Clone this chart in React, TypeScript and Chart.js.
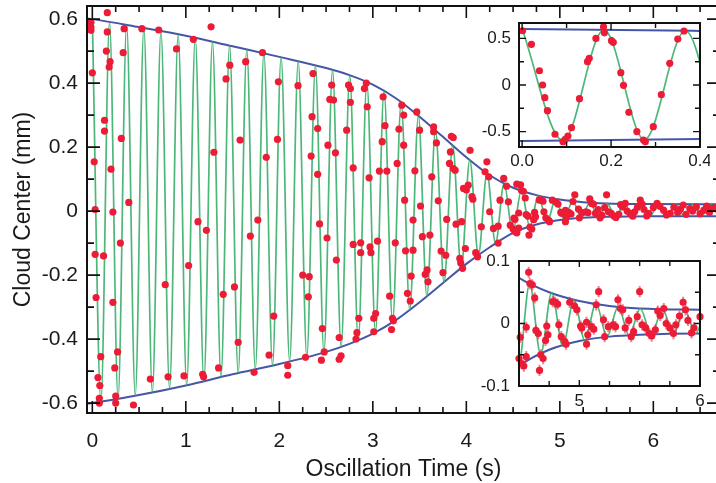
import React, { useEffect, useRef } from 'react';
import { Chart, registerables } from 'chart.js';

Chart.register(...registerables);

const FONT = "'Liberation Sans', Arial, Helvetica, sans-serif";
const INK = '#1a1a1a';
const RED = '#ec1c36';
const GREEN = 'rgba(46,170,98,0.85)';
const BLUE = '#4656a6';

// ---- axis tick labels ----
const MAIN_X_TICKS = [0, 1, 2, 3, 4, 5, 6];
const MAIN_X_LABELS = ['0', '1', '2', '3', '4', '5', '6'];
const MAIN_Y_TICKS = [-0.6, -0.4, -0.2, 0, 0.2, 0.4, 0.6];
const MAIN_Y_LABELS = ['-0.6', '-0.4', '-0.2', '0', '0.2', '0.4', '0.6'];
const IN1_X_TICKS = [0, 0.2, 0.4];
const IN1_X_LABELS = ['0.0', '0.2', '0.4'];
const IN1_Y_TICKS = [-0.5, 0, 0.5];
const IN1_Y_LABELS = ['-0.5', '0', '0.5'];
const IN2_X_TICKS = [5, 6];
const IN2_X_LABELS = ['5', '6'];
const IN2_Y_TICKS = [-0.1, 0, 0.1];
const IN2_Y_LABELS = ['-0.1', '0', '0.1'];

// ---- decay envelope (blue) ----
const ENV_T = [-0.06, 0, 0.5, 1.0, 1.5, 2.0, 2.5, 2.75, 3.0, 3.25, 3.5, 3.75, 4.0, 4.25, 4.5, 4.75, 5.0, 5.25, 5.5, 6.0, 6.75];
const ENV_UPPER = [0.602, 0.6, 0.575, 0.548, 0.515, 0.482, 0.447, 0.425, 0.395, 0.352, 0.295, 0.232, 0.168, 0.112, 0.073, 0.05, 0.036, 0.028, 0.024, 0.022, 0.021];
const ENV_LOWER = [-0.602, -0.6, -0.575, -0.545, -0.51, -0.478, -0.44, -0.415, -0.383, -0.34, -0.285, -0.225, -0.165, -0.113, -0.068, -0.042, -0.028, -0.021, -0.018, -0.016, -0.016];

// ---- fitted oscillation (green): successive extrema ----
const FIT_T = [0, 0.092, 0.184, 0.275, 0.367, 0.459, 0.551, 0.642, 0.734, 0.826, 0.918, 1.009, 1.101, 1.193, 1.285, 1.376, 1.468, 1.56, 1.652, 1.743, 1.835, 1.927, 2.019, 2.11, 2.202, 2.294, 2.386, 2.477, 2.569, 2.661, 2.753, 2.844, 2.936, 3.028, 3.12, 3.211, 3.303, 3.395, 3.487, 3.578, 3.67, 3.762, 3.854, 3.945, 4.037, 4.129, 4.221, 4.312, 4.404, 4.496, 4.588, 4.679, 4.771, 4.863, 4.955, 5.046, 5.138, 5.23, 5.322, 5.413, 5.505, 5.597, 5.689, 5.78, 5.872, 5.964, 6.056, 6.147, 6.239, 6.331, 6.423, 6.514, 6.606, 6.698];
const FIT_Y = [0.6, -0.595, 0.591, -0.586, 0.582, -0.577, 0.572, -0.567, 0.562, -0.555, 0.552, -0.545, 0.541, -0.533, 0.529, -0.519, 0.517, -0.506, 0.505, -0.494, 0.493, -0.483, 0.481, -0.47, 0.468, -0.456, 0.455, -0.442, 0.441, -0.424, 0.425, -0.404, 0.403, -0.378, 0.376, -0.347, 0.341, -0.309, 0.298, -0.267, 0.252, -0.222, 0.206, -0.178, 0.159, -0.138, 0.118, -0.101, 0.087, -0.068, 0.064, -0.049, 0.049, -0.036, 0.038, -0.027, 0.032, -0.021, 0.027, -0.019, 0.024, -0.018, 0.023, -0.017, 0.022, -0.016, 0.022, -0.016, 0.022, -0.016, 0.021, -0.016, 0.021, -0.016];

// ---- measured cloud centre (red), main panel ----
const MAIN_DATA: [number, number][] = [
  [0.16, 0.62], [-0.015, 0.59], [-0.015, 0.575], [-0.015, 0.565], [0.16, 0.56], [0.34, 0.57], [0.53, 0.57], [0.71, 0.566], [1.08, 0.537], [1.27, 0.576],
  [0.15, 0.5], [0.33, 0.495], [0.9, 0.507], [0.19, 0.467], [0.18, 0.45], [1.47, 0.456], [1.43, 0.413], [0.0, 0.432], [0.13, 0.284], [0.13, 0.25],
  [0.31, 0.227], [1.58, 0.222], [1.3, 0.184], [0.02, 0.154], [0.2, 0.131], [0.39, 0.027], [0.03, 0.005], [0.22, -0.003], [1.13, -0.033], [1.22, -0.06],
  [0.03, -0.135], [0.12, -0.14], [0.3, -0.1], [0.04, -0.27], [0.22, -0.285], [0.09, -0.455], [0.27, -0.44], [0.24, -0.49], [0.06, -0.52], [0.08, -0.545],
  [0.075, -0.585], [0.075, -0.6], [0.25, -0.578], [0.25, -0.6], [0.44, -0.606], [0.62, -0.525], [0.81, -0.518], [0.98, -0.515], [1.18, -0.51], [1.19, -0.518],
  [1.35, -0.49], [1.03, -0.17], [0.78, -0.23], [1.4, -0.26], [1.52, -0.237], [1.56, -0.41],
  [1.82, 0.495], [1.64, 0.467], [1.99, 0.404], [2.2, 0.392], [2.36, 0.43], [2.56, 0.394], [2.74, 0.394], [2.76, 0.383], [2.76, 0.34], [2.54, 0.349],
  [2.58, 0.347], [2.93, 0.4], [2.91, 0.383], [2.94, 0.326], [3.11, 0.357], [1.86, 0.168], [1.98, 0.224], [2.35, 0.295], [2.41, 0.258], [2.34, 0.172],
  [2.41, 0.115], [2.52, 0.206], [2.6, 0.182], [2.72, 0.253], [2.79, 0.135], [3.1, 0.217], [3.13, 0.267], [3.28, 0.256], [3.07, 0.125], [3.15, 0.125],
  [3.26, 0.149], [2.96, 0.104], [1.77, -0.028], [1.69, -0.078], [2.43, -0.04], [2.51, -0.084],
  [3.31, 0.331], [3.47, 0.31], [3.33, 0.3], [3.5, 0.253], [3.65, 0.263], [3.65, 0.248], [3.68, 0.213], [3.84, 0.234], [3.86, 0.23], [3.83, 0.185],
  [4.04, 0.19], [3.82, 0.149], [3.86, 0.133], [3.88, 0.128], [4.22, 0.154], [4.02, 0.081], [4.0, 0.066], [4.06, 0.045], [4.2, 0.123], [4.24, 0.107],
  [3.45, 0.126], [3.63, 0.107], [3.33, 0.206], [3.34, 0.034], [3.7, 0.032], [3.51, 0.016], [4.07, 0.037], [3.97, 0.071], [4.4, 0.102], [4.43, 0.078],
  [4.54, 0.084], [4.36, 0.034], [4.45, 0.029], [4.25, -0.002], [3.43, -0.028], [3.79, -0.026], [3.95, -0.033], [4.16, -0.049], [3.53, -0.08], [3.61, -0.075],
  [3.89, -0.041], [4.29, -0.054], [4.34, -0.047], [4.47, -0.044], [4.52, -0.026], [4.34, -0.1],
  [1.73, -0.504], [1.94, -0.328], [1.89, -0.45], [2.09, -0.483], [2.09, -0.513], [2.25, -0.2], [2.32, -0.205], [2.31, -0.268], [2.28, -0.457], [2.46, -0.367],
  [2.48, -0.44], [2.45, -0.466], [2.61, -0.153], [2.64, -0.395], [2.66, -0.452], [2.64, -0.463], [2.79, -0.104], [2.87, -0.099], [2.87, -0.13], [2.85, -0.335],
  [2.83, -0.38], [2.82, -0.4], [2.97, -0.112], [2.98, -0.13], [3.05, -0.094], [3.01, -0.335], [3.03, -0.32], [3.01, -0.377], [3.24, -0.099], [3.18, -0.266],
  [3.21, -0.335], [3.22, -0.343], [3.2, -0.37], [3.35, -0.124], [3.43, -0.122], [3.41, -0.203], [3.37, -0.257], [3.4, -0.281], [3.56, -0.198], [3.58, -0.184],
  [3.59, -0.221], [3.73, -0.125], [3.78, -0.138], [3.75, -0.192], [3.93, -0.148], [3.94, -0.162], [3.96, -0.179], [3.99, -0.117], [4.1, -0.13], [4.12, -0.143],
  [6.04, 0.024], [6.07, 0.015], [6.11, 0.003], [6.14, -0.012], [6.18, -0.007], [6.22, 0.012], [6.26, -0.004], [6.29, 0.006], [6.32, 0.019], [6.35, -0.01],
  [6.39, 0.008], [6.42, 0.0], [6.46, 0.013], [6.5, -0.008], [6.54, 0.003], [6.57, 0.016], [6.6, -0.004], [6.62, 0.008], [6.65, 0.01],
];

// ---- first 0.4 s (upper inset) ----
const EARLY_DATA: [number, number][] = [
  [0.001, 0.582], [0.021, 0.436], [0.039, 0.153], [0.046, 0.0], [0.051, -0.136], [0.057, -0.275], [0.074, -0.528], [0.092, -0.608], [0.097, -0.582], [0.103, -0.547],
  [0.111, -0.458], [0.129, -0.147], [0.147, 0.25], [0.151, 0.286], [0.166, 0.5], [0.183, 0.625], [0.185, 0.56], [0.201, 0.475], [0.205, 0.458], [0.222, 0.132],
  [0.228, -0.003], [0.24, -0.293], [0.258, -0.5], [0.273, -0.59], [0.277, -0.61], [0.295, -0.447], [0.313, -0.104], [0.332, 0.233], [0.35, 0.493], [0.364, 0.579],
];

// ---- 4.5 s to 6 s (lower inset, also shown in main panel) ----
const LATE_DATA: [number, number][] = [
  [4.58, 0.082], [4.51, -0.022], [4.5, -0.056], [4.52, -0.064], [4.54, -0.068], [4.56, -0.053], [4.56, -0.006], [4.59, 0.064], [4.61, 0.062], [4.63, 0.041],
  [4.64, -0.011], [4.66, -0.016], [4.68, -0.05], [4.7, -0.056], [4.67, -0.075], [4.72, -0.027], [4.73, -0.004], [4.74, -0.018], [4.78, 0.035], [4.8, 0.034],
  [4.82, 0.031], [4.83, -0.002], [4.85, -0.021], [4.88, -0.029], [4.89, -0.033], [4.92, 0.034], [4.96, 0.028], [4.98, 0.022], [5.01, -0.004], [5.02, -0.007],
  [5.06, -0.033], [5.07, -0.018], [5.06, 0.002], [5.1, -0.005], [5.12, -0.009], [5.14, 0.03], [5.16, 0.051], [5.2, 0.006], [5.21, -0.021], [5.24, -0.005],
  [5.28, -0.002], [5.3, -0.005], [5.32, 0.038], [5.34, 0.024], [5.36, 0.022], [5.38, -0.007], [5.41, 0.005], [5.43, -0.021], [5.45, -0.013], [5.48, 0.011],
  [5.5, 0.051], [5.52, -0.002], [5.55, -0.007], [5.58, -0.016], [5.6, -0.02], [5.63, -0.01], [5.65, 0.02], [5.67, 0.013], [5.7, 0.024], [5.72, 0.0],
  [5.75, -0.007], [5.78, -0.016], [5.8, -0.002], [5.83, 0.012], [5.86, 0.034], [5.88, 0.022], [5.9, 0.005], [5.93, -0.015], [5.95, -0.007], [6.0, 0.011],
];
const LATE_ERR = 0.009;

function pts(arr: [number, number][]) {
  return arr.map(([x, y]) => ({ x, y }));
}
function pairs(xs: number[], ys: number[]) {
  return xs.map((x, i) => ({ x, y: ys[i] }));
}
function range(a: number, b: number, step: number) {
  const out: number[] = [];
  for (let v = a; v <= b + 1e-9; v += step) out.push(Math.round(v * 1000) / 1000);
  return out;
}

function framePlugin(cfg: {
  xMajor: number[]; xMinor: number[]; yMajor: number[]; yMinor: number[];
  xMajLen: number; xMinLen: number; yMajLen: number; yMinLen: number; lw: number; tw: number; fill: boolean;
}) {
  return {
    id: 'frameTicks',
    beforeDraw(chart: any) {
      if (!cfg.fill) return;
      const { ctx, chartArea: a } = chart;
      ctx.save();
      ctx.fillStyle = '#ffffff';
      ctx.fillRect(a.left, a.top, a.right - a.left, a.bottom - a.top);
      ctx.restore();
    },
    afterDatasetsDraw(chart: any) {
      const { ctx, chartArea: a, scales } = chart;
      const xs = scales.x;
      const ys = scales.y;
      ctx.save();
      ctx.strokeStyle = '#111';
      ctx.lineWidth = cfg.tw;
      ctx.beginPath();
      const xt = (vals: number[], len: number) => vals.forEach((v) => {
        const p = xs.getPixelForValue(v);
        if (p < a.left - 1 || p > a.right + 1) return;
        ctx.moveTo(p, a.bottom); ctx.lineTo(p, a.bottom - len);
        ctx.moveTo(p, a.top); ctx.lineTo(p, a.top + len);
      });
      const yt = (vals: number[], len: number) => vals.forEach((v) => {
        const p = ys.getPixelForValue(v);
        if (p < a.top - 1 || p > a.bottom + 1) return;
        ctx.moveTo(a.left, p); ctx.lineTo(a.left + len, p);
        ctx.moveTo(a.right, p); ctx.lineTo(a.right - len, p);
      });
      xt(cfg.xMajor, cfg.xMajLen);
      xt(cfg.xMinor, cfg.xMinLen);
      yt(cfg.yMajor, cfg.yMajLen);
      yt(cfg.yMinor, cfg.yMinLen);
      ctx.stroke();
      ctx.lineWidth = cfg.lw;
      ctx.strokeRect(a.left, a.top, a.right - a.left, a.bottom - a.top);
      ctx.restore();
    },
  };
}

function errorBarPlugin(data: [number, number][], err: number) {
  return {
    id: 'errorBars',
    beforeDatasetDraw(chart: any, args: any) {
      if (args.index !== 0) return;
      const { ctx, chartArea: a, scales } = chart;
      const meta = chart.getDatasetMeta(0);
      ctx.save();
      ctx.beginPath();
      ctx.rect(a.left, a.top, a.right - a.left, a.bottom - a.top);
      ctx.clip();
      ctx.strokeStyle = 'rgba(236,40,70,0.6)';
      ctx.lineWidth = 2;
      ctx.beginPath();
      meta.data.forEach((el: any, i: number) => {
        const v = data[i][1];
        ctx.moveTo(el.x, scales.y.getPixelForValue(v + err));
        ctx.lineTo(el.x, scales.y.getPixelForValue(v - err));
      });
      ctx.stroke();
      ctx.restore();
    },
  };
}

function zeroPad(s: any) {
  s.paddingLeft = 0; s.paddingRight = 0; s.paddingTop = 0; s.paddingBottom = 0;
}

function axes(o: {
  xMin: number; xMax: number; yMin: number; yMax: number;
  xTicks: number[]; xLabels: string[]; yTicks: number[]; yLabels: string[];
  yWidth: number; xHeight: number; fontSize: number; xPad: number; yPad: number;
  xTitle?: string; yTitle?: string; titleSize?: number;
}) {
  const font = { family: FONT, size: o.fontSize };
  const tfont = { family: FONT, size: o.titleSize || o.fontSize };
  return {
    x: {
      type: 'linear', position: 'bottom', min: o.xMin, max: o.xMax,
      grid: { display: false, drawTicks: false }, border: { display: false },
      afterBuildTicks: (s: any) => { s.ticks = o.xTicks.map((v) => ({ value: v })); },
      afterFit: (s: any) => { s.height = o.xHeight; zeroPad(s); },
      ticks: { font, color: INK, padding: o.xPad, autoSkip: false, maxRotation: 0, minRotation: 0, callback: (_v: any, i: number) => o.xLabels[i] },
      title: o.xTitle ? { display: true, text: o.xTitle, font: tfont, color: INK, padding: { top: 0, bottom: 0 } } : { display: false },
    },
    y: {
      type: 'linear', position: 'left', min: o.yMin, max: o.yMax,
      grid: { display: false, drawTicks: false }, border: { display: false },
      afterBuildTicks: (s: any) => { s.ticks = o.yTicks.map((v) => ({ value: v })); },
      afterFit: (s: any) => { s.width = o.yWidth; zeroPad(s); },
      ticks: { font, color: INK, padding: o.yPad, autoSkip: false, callback: (_v: any, i: number) => o.yLabels[i] },
      title: o.yTitle ? { display: true, text: o.yTitle, font: tfont, color: INK, padding: { top: 10, bottom: 0 } } : { display: false },
    },
  };
}

function lineSets(redData: any[]) {
  return [
    { label: 'data', data: redData, backgroundColor: RED, borderColor: RED, borderWidth: 0, pointRadius: 3.6, showLine: false, clip: 6 },
    { label: 'fit', data: pairs(FIT_T, FIT_Y), showLine: true, borderColor: GREEN, borderWidth: 1.7, pointRadius: 0, cubicInterpolationMode: 'monotone', fill: false },
    { label: 'upper', data: pairs(ENV_T, ENV_UPPER), showLine: true, borderColor: BLUE, borderWidth: 2, pointRadius: 0, cubicInterpolationMode: 'monotone', fill: false },
    { label: 'lower', data: pairs(ENV_T, ENV_LOWER), showLine: true, borderColor: BLUE, borderWidth: 2, pointRadius: 0, cubicInterpolationMode: 'monotone', fill: false },
  ];
}

const baseOptions = {
  responsive: false,
  maintainAspectRatio: false,
  animation: false,
  devicePixelRatio: 1,
  events: [],
  plugins: { legend: { display: false }, tooltip: { enabled: false } },
};

export default function App() {
  const mainRef = useRef<HTMLCanvasElement>(null);
  const in1Ref = useRef<HTMLCanvasElement>(null);
  const in2Ref = useRef<HTMLCanvasElement>(null);

  useEffect(() => {
    const main = new Chart(mainRef.current as HTMLCanvasElement, {
      type: 'scatter',
      data: { datasets: lineSets(pts(MAIN_DATA).concat(pts(LATE_DATA))) as any },
      options: {
        ...baseOptions,
        layout: { padding: { left: 0, top: 6, right: 20, bottom: 0 } },
        scales: axes({
          xMin: -0.057, xMax: 6.713, yMin: -0.631, yMax: 0.641,
          xTicks: MAIN_X_TICKS, xLabels: MAIN_X_LABELS, yTicks: MAIN_Y_TICKS, yLabels: MAIN_Y_LABELS,
          yWidth: 87, xHeight: 70, fontSize: 21, xPad: 16, yPad: 9,
          xTitle: 'Oscillation Time (s)', yTitle: 'Cloud Center (mm)', titleSize: 23,
        }) as any,
      } as any,
      plugins: [framePlugin({
        xMajor: MAIN_X_TICKS, xMinor: range(0.25, 6.75, 0.25).filter((v) => v % 1 !== 0),
        yMajor: MAIN_Y_TICKS, yMinor: [-0.5, -0.3, -0.1, 0.1, 0.3, 0.5],
        xMajLen: 12, xMinLen: 6, yMajLen: 13, yMinLen: 7, lw: 2, tw: 1.6, fill: false,
      }) as any],
    });

    const in1 = new Chart(in1Ref.current as HTMLCanvasElement, {
      type: 'scatter',
      data: { datasets: lineSets(pts(EARLY_DATA)) as any },
      options: {
        ...baseOptions,
        layout: { padding: { left: 0, top: 8, right: 10, bottom: 0 } },
        scales: axes({
          xMin: -0.007, xMax: 0.4, yMin: -0.665, yMax: 0.665,
          xTicks: IN1_X_TICKS, xLabels: IN1_X_LABELS, yTicks: IN1_Y_TICKS, yLabels: IN1_Y_LABELS,
          yWidth: 49, xHeight: 28, fontSize: 17, xPad: 4, yPad: 8,
        }) as any,
      } as any,
      plugins: [framePlugin({
        xMajor: IN1_X_TICKS, xMinor: [0.1, 0.3],
        yMajor: IN1_Y_TICKS, yMinor: [-0.25, 0.25],
        xMajLen: 7, xMinLen: 5, yMajLen: 7, yMinLen: 5, lw: 2, tw: 1.4, fill: true,
      }) as any],
    });

    const in2 = new Chart(in2Ref.current as HTMLCanvasElement, {
      type: 'scatter',
      data: { datasets: lineSets(pts(LATE_DATA)) as any },
      options: {
        ...baseOptions,
        layout: { padding: { left: 0, top: 11, right: 10, bottom: 0 } },
        scales: axes({
          xMin: 4.5, xMax: 6.0, yMin: -0.1, yMax: 0.1,
          xTicks: IN2_X_TICKS, xLabels: IN2_X_LABELS, yTicks: IN2_Y_TICKS, yLabels: IN2_Y_LABELS,
          yWidth: 49, xHeight: 34, fontSize: 17, xPad: 5, yPad: 9,
        }) as any,
      } as any,
      plugins: [errorBarPlugin(LATE_DATA, LATE_ERR) as any, framePlugin({
        xMajor: IN2_X_TICKS, xMinor: [4.75, 5.25, 5.5, 5.75],
        yMajor: IN2_Y_TICKS, yMinor: [-0.05, 0.05],
        xMajLen: 6, xMinLen: 5, yMajLen: 6, yMinLen: 5, lw: 2, tw: 1.4, fill: true,
      }) as any],
    });

    return () => { main.destroy(); in1.destroy(); in2.destroy(); };
  }, []);

  return (
    <div style={{ position: 'fixed', left: 0, top: 0, width: 716, height: 483, overflow: 'hidden', background: '#ffffff' }}>
      <canvas ref={mainRef} width={740} height={483} style={{ position: 'absolute', left: 0, top: 0, width: 740, height: 483 }} />
      <canvas ref={in1Ref} width={240} height={160} style={{ position: 'absolute', left: 470, top: 15, width: 240, height: 160 }} />
      <canvas ref={in2Ref} width={240} height={170} style={{ position: 'absolute', left: 470, top: 250, width: 240, height: 170 }} />
    </div>
  );
}
